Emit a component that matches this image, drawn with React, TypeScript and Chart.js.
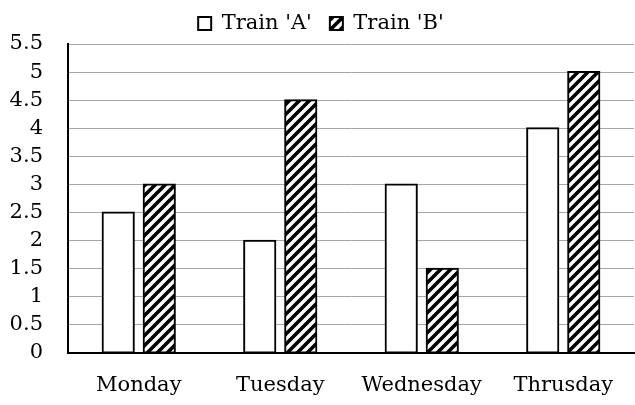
import React, { useEffect, useRef } from "react";
import { Chart, registerables } from "chart.js";

Chart.register(...registerables);

const categories = ["Monday", "Tuesday", "Wednesday", "Thrusday"];
const trainA = [2.5, 2, 3, 4];
const trainB = [3, 4.5, 1.5, 5];
const seriesNames = ["Train 'A'", "Train 'B'"];
const yTicks = [0, 0.5, 1, 1.5, 2, 2.5, 3, 3.5, 4, 4.5, 5, 5.5];

const FONT = "'DejaVu Serif', serif";

function makeHatch(): CanvasPattern | string {
  const c = document.createElement("canvas");
  c.width = 10;
  c.height = 10;
  const ctx = c.getContext("2d");
  if (!ctx) return "#000";
  ctx.fillStyle = "#ffffff";
  ctx.fillRect(0, 0, 10, 10);
  ctx.strokeStyle = "#000000";
  ctx.lineWidth = 3.6;
  ctx.beginPath();
  ctx.moveTo(-5, 5);
  ctx.lineTo(5, -5);
  ctx.moveTo(0, 10);
  ctx.lineTo(10, 0);
  ctx.moveTo(5, 15);
  ctx.lineTo(15, 5);
  ctx.stroke();
  const p = ctx.createPattern(c, "repeat");
  return p || "#000";
}

export default function App() {
  const ref = useRef<HTMLCanvasElement>(null);
  useEffect(() => {
    if (!ref.current) return;
    const hatch = makeHatch();
    const chart = new Chart(ref.current, {
      type: "bar",
      data: {
        labels: categories,
        datasets: [
          {
            label: seriesNames[0],
            data: trainA,
            backgroundColor: "#ffffff",
            borderColor: "#000000",
            borderWidth: 2,
            borderSkipped: false,
            inflateAmount: 1,
            categoryPercentage: 0.58,
            barPercentage: 0.76,
          } as any,
          {
            label: seriesNames[1],
            data: trainB,
            backgroundColor: hatch as any,
            borderColor: "#000000",
            borderWidth: 2,
            borderSkipped: false,
            inflateAmount: 1,
            categoryPercentage: 0.58,
            barPercentage: 0.76,
          } as any,
        ],
      },
      options: {
        animation: false,
        responsive: true,
        maintainAspectRatio: false,
        layout: { padding: { left: 8, right: 1, top: -5, bottom: 0 } },
        plugins: {
          tooltip: { enabled: false },
          legend: {
            position: "top",
            labels: {
              boxWidth: 13,
              boxHeight: 13,
              padding: 18,
              color: "#000",
              font: { family: FONT, size: 21 },
            },
          },
        },
        scales: {
          x: {
            grid: { display: false, drawTicks: false },
            border: { display: true, color: "#000", width: 2 },
            ticks: {
              color: "#000",
              font: { family: FONT, size: 21 },
              padding: 20,
              maxRotation: 0,
              autoSkip: false,
            },
            afterFit: (s: any) => {
              s.height = 52;
            },
          },
          y: {
            min: 0,
            max: 5.5,
            afterBuildTicks: (s: any) => {
              s.ticks = yTicks.map((v) => ({ value: v }));
            },
            grid: { color: "#a6a6a6", lineWidth: 1, drawTicks: false },
            border: { display: true, color: "#000", width: 2 },
            ticks: {
              color: "#000",
              font: { family: FONT, size: 21 },
              padding: 25,
              autoSkip: false,
              callback: (v: any) => String(v),
            },
            afterFit: (s: any) => {
              s.width = 60;
            },
          },
        },
      },
    });
    return () => chart.destroy();
  }, []);
  return (
    <div style={{ position: "fixed", left: 0, top: 0, width: 635, height: 405, background: "#fff" }}>
      <canvas ref={ref} />
    </div>
  );
}
